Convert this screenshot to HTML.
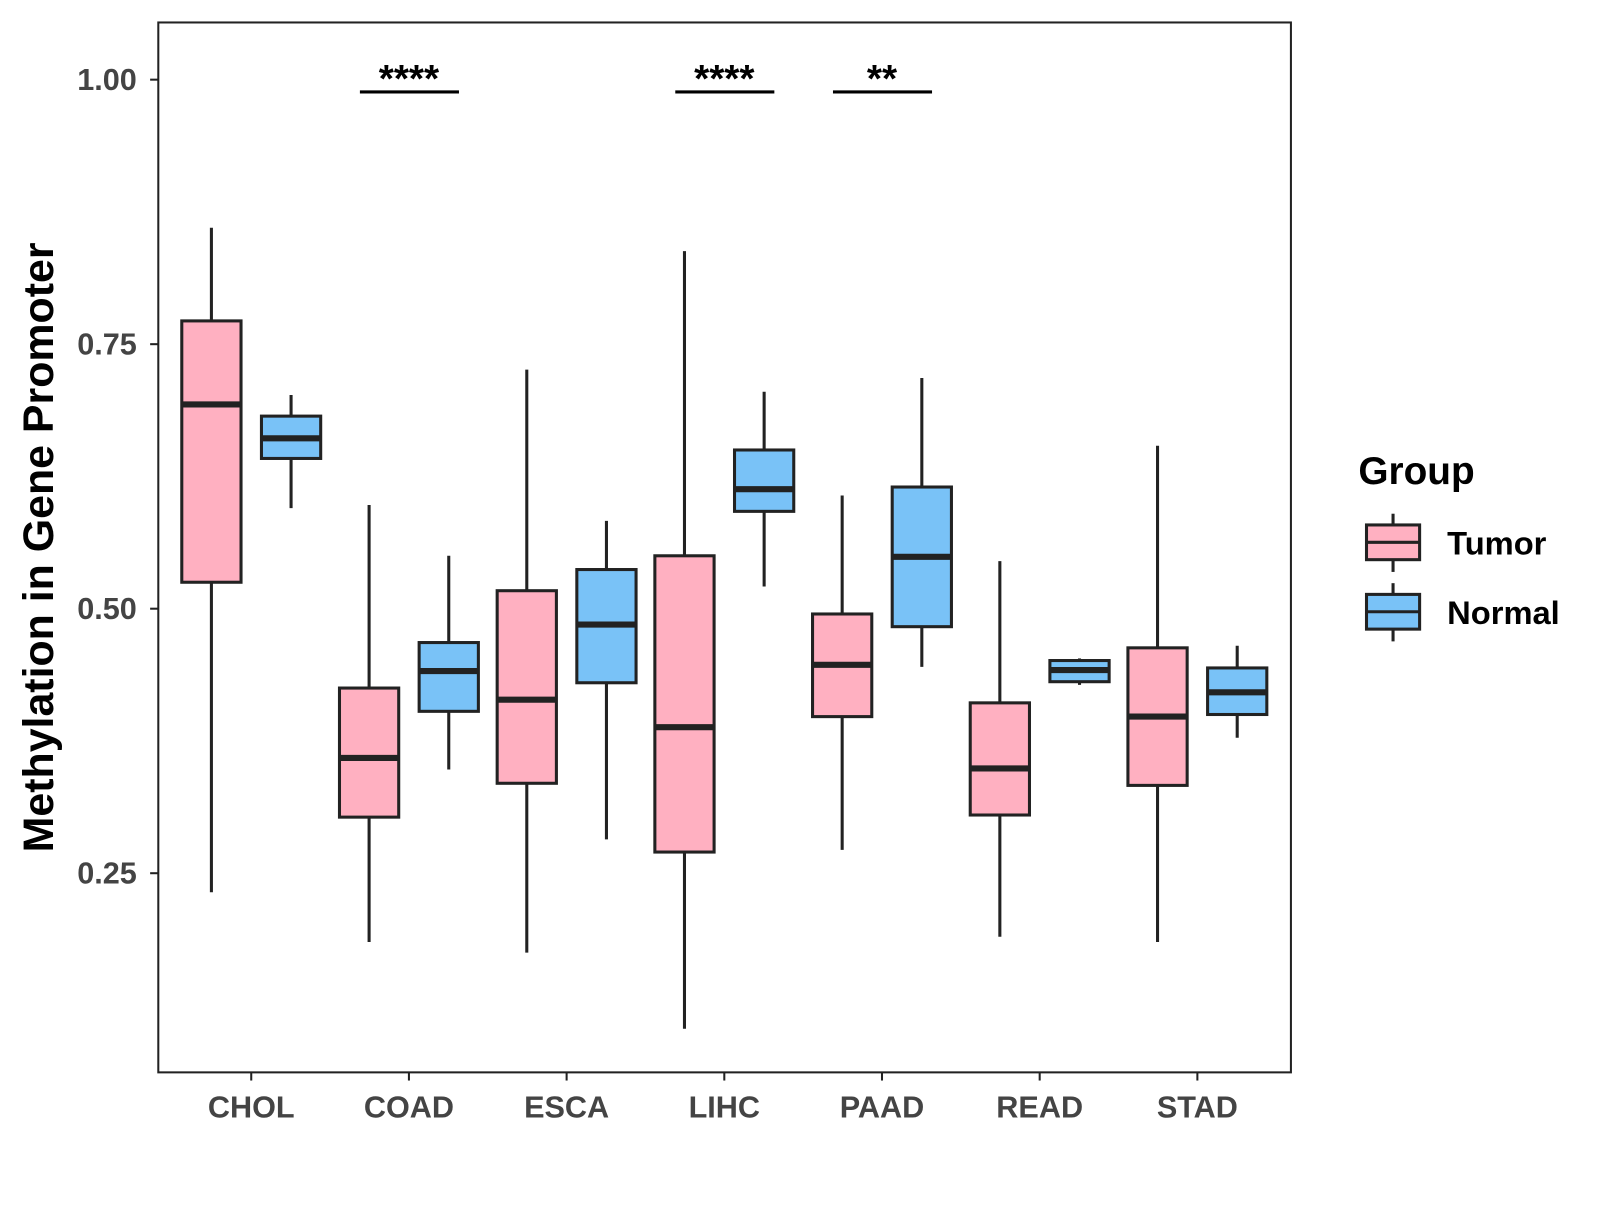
<!DOCTYPE html>
<html><head><meta charset="utf-8"><style>
body{margin:0;background:#fff;}
svg text{font-family:"Liberation Sans",Arial,sans-serif;font-weight:bold;}
</style></head><body>
<svg id="chart" width="1600" height="1200" xmlns="http://www.w3.org/2000/svg">
<rect x="0" y="0" width="1600" height="1200" fill="#fff"/>
<g transform="scale(1.0213)">
<rect x="155" y="22" width="1109" height="1028" fill="none" stroke="#222" stroke-width="2"/>
<text x="52" y="536" font-size="42" fill="#000" text-anchor="middle" transform="rotate(-90 52 536)">Methylation in Gene Promoter</text>
<g id="marks"></g>
<text x="1330" y="474" font-size="38" fill="#000">Group</text>
<g>
<line x1="1364" y1="503" x2="1364" y2="560" stroke="#222" stroke-width="3"/>
<rect x="1338" y="514" width="52" height="34" fill="#FFB0C1" stroke="#222" stroke-width="3"/>
<line x1="1338" y1="531" x2="1390" y2="531" stroke="#222" stroke-width="3"/>
<text x="1417" y="543" font-size="32" fill="#000">Tumor</text>
</g>
<g>
<line x1="1364" y1="571" x2="1364" y2="628" stroke="#222" stroke-width="3"/>
<rect x="1338" y="582" width="52" height="34" fill="#79C2F7" stroke="#222" stroke-width="3"/>
<line x1="1338" y1="599" x2="1390" y2="599" stroke="#222" stroke-width="3"/>
<text x="1417" y="611" font-size="32" fill="#000">Normal</text>
</g>
</g>
</svg>
<script>
const categories=["CHOL","COAD","ESCA","LIHC","PAAD","READ","STAD"];
const tumorMin=[0.232,0.185,0.175,0.103,0.272,0.190,0.185];
const tumorQ1=[0.525,0.303,0.335,0.270,0.398,0.305,0.333];
const tumorMed=[0.693,0.359,0.414,0.388,0.447,0.349,0.398];
const tumorQ3=[0.772,0.425,0.517,0.550,0.495,0.411,0.463];
const tumorMax=[0.860,0.598,0.726,0.838,0.607,0.545,0.654];
const normalMin=[0.595,0.348,0.282,0.521,0.445,0.428,0.378];
const normalQ1=[0.642,0.403,0.430,0.592,0.483,0.431,0.400];
const normalMed=[0.661,0.441,0.485,0.613,0.549,0.442,0.421];
const normalQ3=[0.682,0.468,0.537,0.650,0.615,0.451,0.444];
const normalMax=[0.702,0.550,0.583,0.705,0.718,0.453,0.465];
const yTicks=[0.25,0.50,0.75,1.00];
const yTickLabels=["0.25","0.50","0.75","1.00"];
const sigCategories=["COAD","LIHC","PAAD"];
const sigLabels=["****","****","**"];

const NS="http://www.w3.org/2000/svg";
const g=document.getElementById('marks');
function y(v){return 78+(1-v)*1036;}
function x(i){return 246+i*154.4;}
function mk(tag,attrs,parent){const e=document.createElementNS(NS,tag);for(const k in attrs)e.setAttribute(k,attrs[k]);(parent||g).appendChild(e);return e;}

yTicks.forEach((t,i)=>{
  const l=mk('line',{x1:147,x2:155,y1:y(t),y2:y(t),stroke:'#222','stroke-width':2});
  
  
  const tx=mk('text',{x:134,y:y(t)+10,'font-size':30,fill:'#444','text-anchor':'end'});
  tx.textContent=yTickLabels[i];
  
  
});
categories.forEach((c,i)=>{
  const l=mk('line',{x1:x(i),x2:x(i),y1:1050,y2:1058,stroke:'#222','stroke-width':2});
  
  
  const tx=mk('text',{x:x(i),y:1094,'font-size':30,fill:'#444','text-anchor':'middle'});
  tx.textContent=c;
  
  
});
function box(cx,mn,q1,md,q3,mx,fill,name){
  const gg=mk('g',{});
  
  
  mk('line',{x1:cx,x2:cx,y1:y(mx),y2:y(mn),stroke:'#222','stroke-width':3},gg);
  mk('rect',{x:cx-29,y:y(q3),width:58,height:y(q1)-y(q3),fill:fill,stroke:'#222','stroke-width':3},gg);
  mk('line',{x1:cx-29,x2:cx+29,y1:y(md),y2:y(md),stroke:'#222','stroke-width':6},gg);
}
categories.forEach((c,i)=>{
  box(x(i)-39,tumorMin[i],tumorQ1[i],tumorMed[i],tumorQ3[i],tumorMax[i],'#FFB0C1','box-tumor-'+c.toLowerCase());
  box(x(i)+39,normalMin[i],normalQ1[i],normalMed[i],normalQ3[i],normalMax[i],'#79C2F7','box-normal-'+c.toLowerCase());
});
sigCategories.forEach((c,k)=>{
  const i=categories.indexOf(c);
  const l=mk('line',{x1:x(i)-48,x2:x(i)+49,y1:90,y2:90,stroke:'#000','stroke-width':3});
  
  
  const t=mk('text',{x:x(i),y:90,'font-size':38,fill:'#000','text-anchor':'middle'});
  t.textContent=sigLabels[k];
  
  
});
</script>
</body></html>
